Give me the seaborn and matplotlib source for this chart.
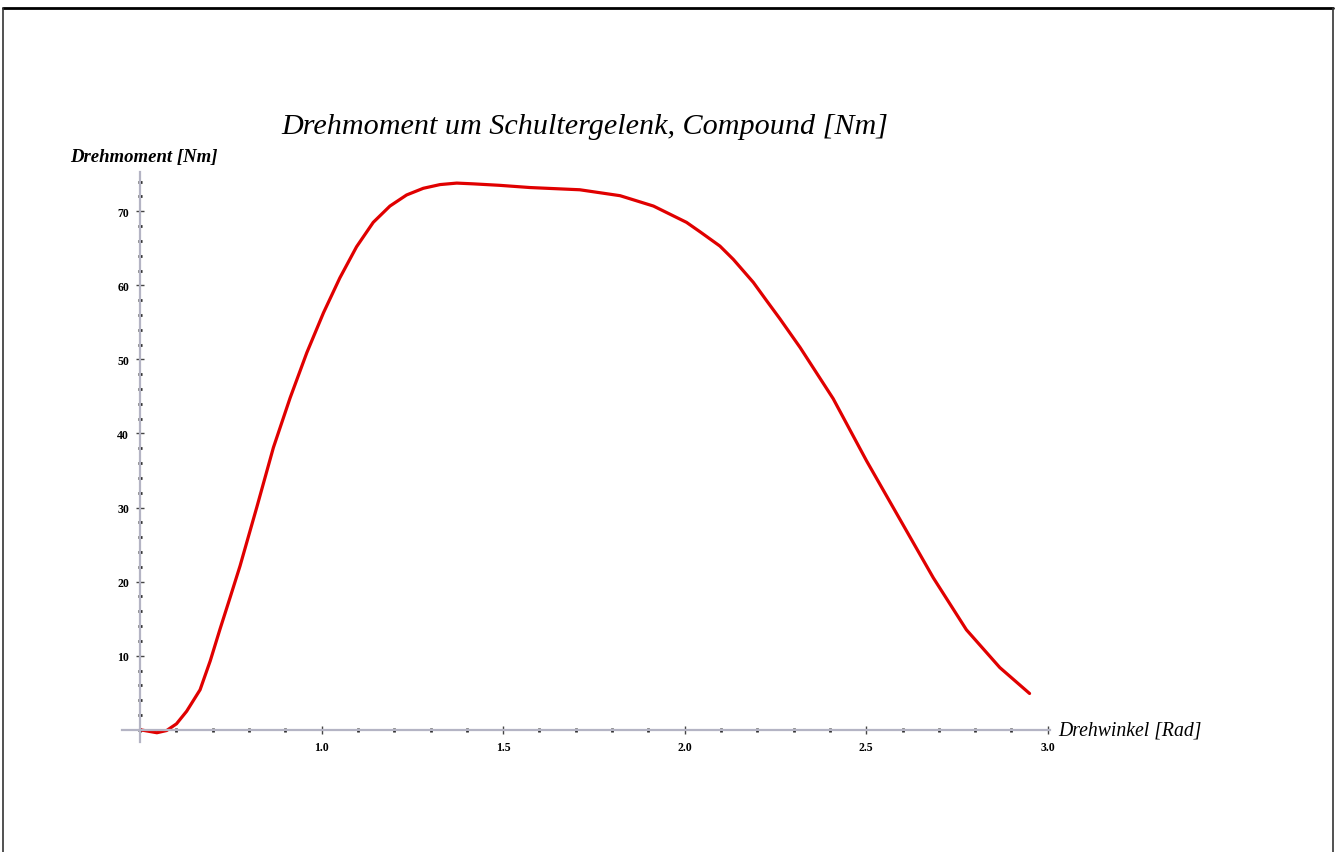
import numpy as np
import pandas as pd
import matplotlib
matplotlib.use("Agg")
import matplotlib.pyplot as plt
from matplotlib.ticker import MultipleLocator, FixedLocator
from matplotlib.lines import Line2D
import seaborn as sns

# values
winkel = [0.5, 0.546, 0.573, 0.6, 0.628, 0.665, 0.693, 0.72, 0.748, 0.775,
          0.821, 0.867, 0.913, 0.959, 1.005, 1.05, 1.096, 1.142, 1.188, 1.234,
          1.28, 1.326, 1.372, 1.417, 1.49, 1.574, 1.711, 1.822, 1.914, 2.005,
          2.043, 2.097, 2.134, 2.189, 2.226, 2.262, 2.318, 2.409, 2.501, 2.593,
          2.685, 2.776, 2.868, 2.95]
moment = [0.0, -0.4, -0.1, 0.8, 2.5, 5.4, 9.3, 13.6, 17.9, 22.1,
          30.0, 38.1, 44.8, 50.9, 56.3, 61.0, 65.2, 68.5, 70.7, 72.2,
          73.1, 73.6, 73.8, 73.7, 73.5, 73.2, 72.9, 72.1, 70.7, 68.5,
          67.2, 65.3, 63.5, 60.4, 57.9, 55.5, 51.6, 44.7, 36.3, 28.4,
          20.5, 13.5, 8.4, 4.9]
x_ticks = [1.0, 1.5, 2.0, 2.5, 3.0]
y_ticks = [10, 20, 30, 40, 50, 60, 70]

title = "Drehmoment um Schultergelenk, Compound [Nm]"
xlab = "Drehwinkel [Rad]"
ylab = "Drehmoment [Nm]"

df = pd.DataFrame({"winkel": winkel, "moment": moment})

sns.set_style("white")
plt.rcParams["font.family"] = ["Liberation Serif", "DejaVu Serif"]
plt.rcParams["text.color"] = "black"

fig = plt.figure(figsize=(13.38, 8.53), dpi=100)
ax = fig.add_axes([0.0912, 0.1294, 0.6932, 0.6678])

sns.lineplot(data=df, x="winkel", y="moment", color="#e00000", lw=2.3, ax=ax,
             solid_joinstyle="round", solid_capstyle="round")

ax.set_xlim(0.45, 3.005)
ax.set_ylim(-1.6, 75.3)

axis_col = "#b4b4c4"
for side in ["top", "right"]:
    ax.spines[side].set_visible(False)
ax.spines["left"].set_position(("data", 0.5))
ax.spines["bottom"].set_position(("data", 0))
for side in ["left", "bottom"]:
    ax.spines[side].set_color(axis_col)
    ax.spines[side].set_linewidth(1.6)

ax.xaxis.set_major_locator(FixedLocator(x_ticks))
ax.yaxis.set_major_locator(FixedLocator(y_ticks))
ax.xaxis.set_minor_locator(MultipleLocator(0.1))
ax.yaxis.set_minor_locator(MultipleLocator(2))
ax.set_xticklabels([f"{v:.1f}" for v in x_ticks])
ax.set_yticklabels([str(v) for v in y_ticks])
ax.tick_params(which="both", bottom=True, left=True, top=False, right=False)
ax.tick_params(which="major", direction="inout", length=6, width=1, color="#444444",
               labelsize=8.5, labelcolor="black", pad=5)
ax.tick_params(which="minor", direction="inout", length=2.2, width=2, color="#222222")
for lab in ax.get_xticklabels() + ax.get_yticklabels():
    lab.set_fontweight("bold")

ax.set_xlabel("")
ax.set_ylabel("")
ax.text(3.028, 0, xlab, fontsize=14.2, style="italic", ha="left", va="center",
        clip_on=False)
ax.text(0.307, 77.4, ylab, fontsize=13.5, style="italic", fontweight="bold",
        ha="left", va="center", clip_on=False)
fig.text(0.437, 0.851, title, fontsize=21.7, style="italic", ha="center", va="center")

# frame around the picture
fig.add_artist(Line2D([0.0022, 0.9963], [0.9894, 0.9894], lw=2, color="black",
                      transform=fig.transFigure))
fig.add_artist(Line2D([0.0022, 0.0022], [0.0, 0.9894], lw=1.2, color="#333333",
                      transform=fig.transFigure))
fig.add_artist(Line2D([0.9963, 0.9963], [0.0, 0.9894], lw=1.2, color="#333333",
                      transform=fig.transFigure))

fig.savefig("out.png", dpi=100, facecolor="white")
